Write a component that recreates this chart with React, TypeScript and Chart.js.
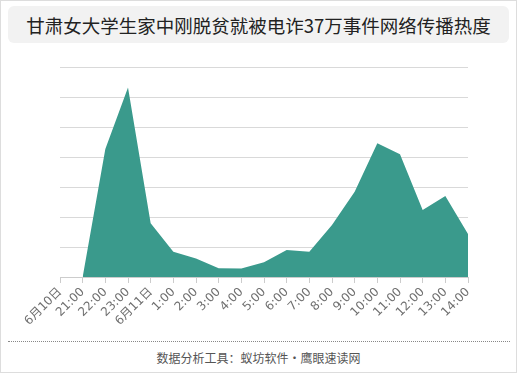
import React, { useEffect, useRef } from "react";
import { Chart, registerables } from "chart.js";

Chart.register(...registerables);

const categories: string[] = [
  "6月10日", "21:00", "22:00", "23:00", "6月11日", "1:00", "2:00", "3:00", "4:00",
  "5:00", "6:00", "7:00", "8:00", "9:00", "10:00", "11:00", "12:00", "13:00", "14:00",
];
const heatValues: (number | null)[] = [
  null, 0, 427, 632, 179, 84, 62, 29, 28, 49, 90, 84, 173, 284, 446, 409, 223, 270, 143,
];
const titleText = "甘肃女大学生家中刚脱贫就被电诈37万事件网络传播热度";
const footerText = "数据分析工具：蚁坊软件・鹰眼速读网";

export default function App() {
  const canvasRef = useRef<HTMLCanvasElement | null>(null);

  useEffect(() => {
    document.body.style.margin = "0";
    const canvas = canvasRef.current;
    if (!canvas) return;
    const chart = new Chart(canvas, {
      type: "line",
      data: {
        labels: categories,
        datasets: [
          {
            data: heatValues,
            fill: "origin",
            backgroundColor: "#3a9a8c",
            borderColor: "#3a9a8c",
            borderWidth: 0,
            pointRadius: 0,
            tension: 0,
            spanGaps: false,
          },
        ],
      },
      options: {
        animation: false,
        responsive: false,
        maintainAspectRatio: false,
        layout: { padding: { left: 60, right: 50, top: 7, bottom: 0 } },
        plugins: { legend: { display: false }, tooltip: { enabled: false } },
        scales: {
          x: {
            offset: false,
            grid: {
              drawOnChartArea: false,
              drawTicks: true,
              tickLength: 6,
              color: "#cccccc",
            },
            border: { display: true, color: "#cccccc" },
            ticks: {
              autoSkip: false,
              minRotation: 45,
              maxRotation: 45,
              color: "#6f6f6f",
              font: { size: 12, family: "'DejaVu Sans', 'Noto Sans CJK SC', sans-serif" },
              padding: 2,
            },
            afterFit: (scale: any) => {
              scale.height = 63;
            },
          },
          y: {
            min: 0,
            max: 700,
            ticks: { display: false, stepSize: 100 },
            grid: { color: "#d9d9d9", drawTicks: false, lineWidth: 1 },
            border: { display: false },
            afterFit: (scale: any) => {
              scale.width = 0;
            },
          },
        },
      },
    });
    return () => chart.destroy();
  }, []);

  return (
    <div
      style={{
        position: "relative",
        width: 517,
        height: 373,
        boxSizing: "border-box",
        border: "1px solid #dddddd",
        background: "#ffffff",
        fontFamily: "'Noto Sans CJK SC', 'Noto Sans', sans-serif",
      }}
    >
      <div
        style={{
          position: "absolute",
          left: 7,
          top: 5,
          width: 501,
          height: 37,
          background: "#f2f2f2",
          borderRadius: 6,
          display: "flex",
          alignItems: "center",
          justifyContent: "center",
          fontSize: 18.5,
          color: "#222222",
          whiteSpace: "nowrap",
        }}
      >
        {titleText}
      </div>
      <canvas
        ref={canvasRef}
        width={518}
        height={280}
        style={{ position: "absolute", left: -1, top: 59, width: 518, height: 280 }}
      />
      <div
        style={{
          position: "absolute",
          left: 7,
          top: 340,
          width: 502,
          height: 0,
          borderTop: "1px dotted #888888",
        }}
      />
      <div
        style={{
          position: "absolute",
          left: 0,
          top: 348,
          width: 515,
          textAlign: "center",
          fontSize: 12,
          color: "#555555",
          lineHeight: "18px",
          whiteSpace: "nowrap",
        }}
      >
        {footerText}
      </div>
    </div>
  );
}
